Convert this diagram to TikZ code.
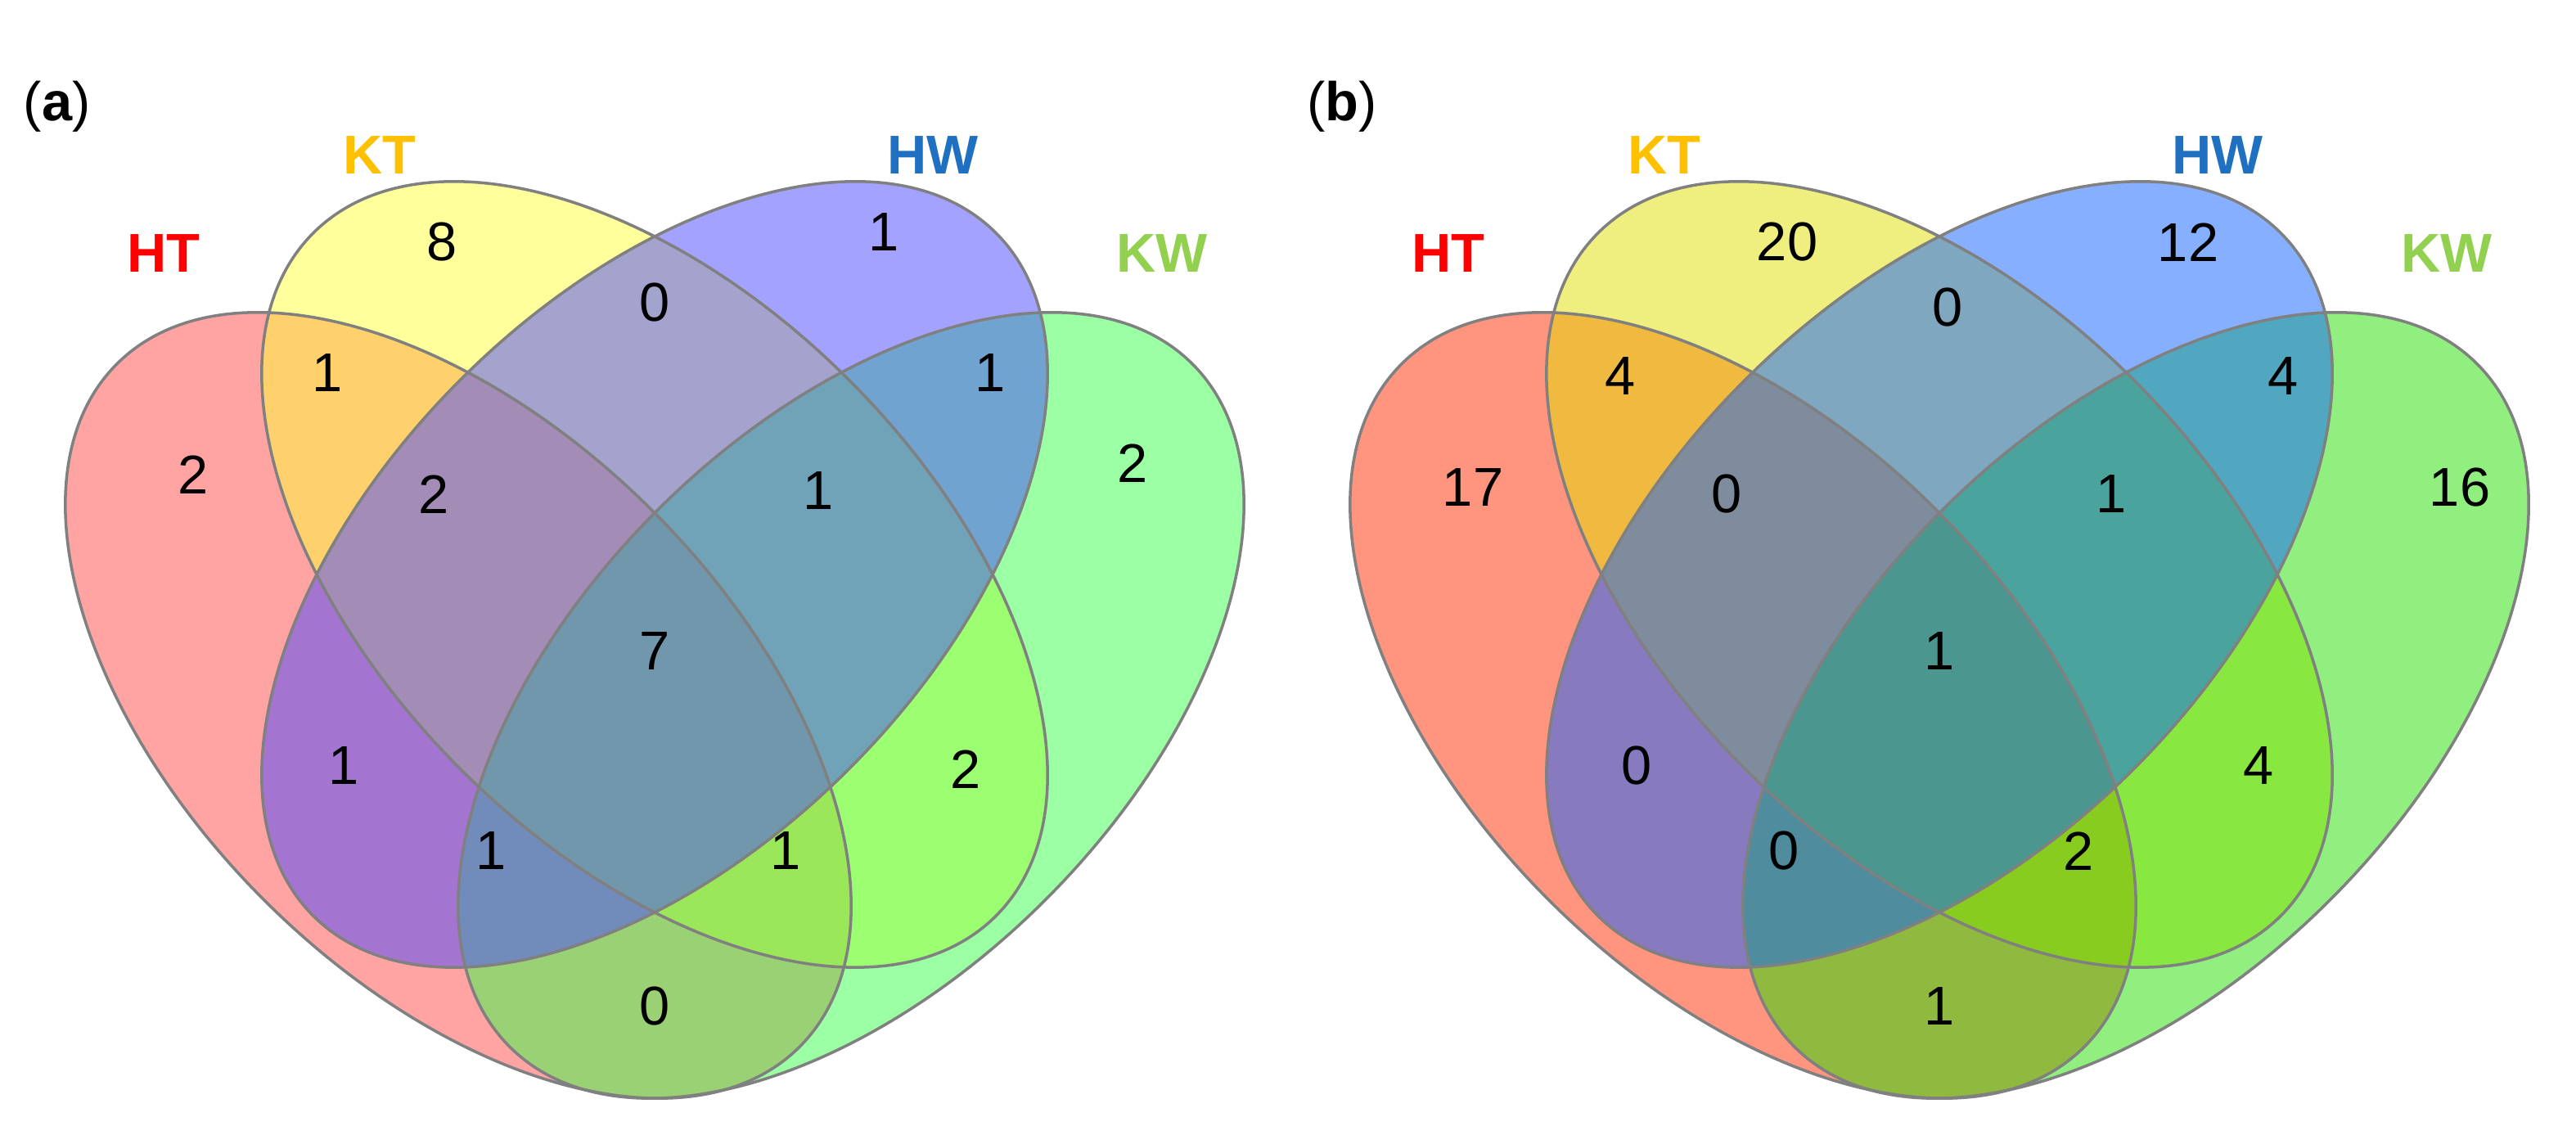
\documentclass[tikz,border=0pt]{standalone}
\usepackage{fontspec}
\setmainfont{Liberation Sans}
\usetikzlibrary{positioning}

\definecolor{htA}{HTML}{FF4848}
\definecolor{ktA}{HTML}{FFFF38}
\definecolor{hwA}{HTML}{4848FF}
\definecolor{kwA}{HTML}{38FF48}
\definecolor{htB}{HTML}{FF2A00}
\definecolor{ktB}{HTML}{E0E000}
\definecolor{hwB}{HTML}{1060FF}
\definecolor{kwB}{HTML}{22E000}
\definecolor{htT}{HTML}{FF0000}
\definecolor{ktT}{HTML}{FFC000}
\definecolor{hwT}{HTML}{1F70C0}
\definecolor{kwT}{HTML}{92D050}

\begin{document}
\begin{tikzpicture}[
    set/.style={fill opacity=0.5},
    rim/.style={draw=black!50, line width=0.5pt},
    num/.style={font=\fontsize{9.5}{11}\selectfont},
    lab/.style={font=\fontsize{9.5}{11}\selectfont\bfseries},
    ]
    \useasboundingbox (0,0) rectangle (15.74,6.88);
    %Panel a
    \begin{scope}
    \fill[set, fill=htA] (2.8,2.57) ellipse[x radius=2.95, y radius=1.68, rotate=-45];
    \fill[set, fill=ktA] (4.0,3.37) ellipse[x radius=2.95, y radius=1.68, rotate=-45];
    \fill[set, fill=kwA] (5.2,2.57) ellipse[x radius=2.95, y radius=1.68, rotate=45];
    \fill[set, fill=hwA] (4.0,3.37) ellipse[x radius=2.95, y radius=1.68, rotate=45];
    \draw[rim] (2.8,2.57) ellipse[x radius=2.95, y radius=1.68, rotate=-45];
    \draw[rim] (4.0,3.37) ellipse[x radius=2.95, y radius=1.68, rotate=-45];
    \draw[rim] (4.0,3.37) ellipse[x radius=2.95, y radius=1.68, rotate=45];
    \draw[rim] (5.2,2.57) ellipse[x radius=2.95, y radius=1.68, rotate=45];
    \node[lab] (pa) at (0.35,6.23) {\mdseries(\textbf{a})};
    \node[lab, text=ktT] (kta) at (2.32,5.93) {KT};
    \node[lab, text=hwT] (hwa) at (5.70,5.93) {HW};
    \node[lab, text=htT] (hta) at (1.00,5.33) {HT};
    \node[lab, text=kwT] (kwa) at (7.10,5.33) {KW};
    \node[num] (a1)  at (2.70,5.40) {8};
    \node[num] (a2)  at (5.40,5.46) {1};
    \node[num] (a3)  at (4.00,5.03) {0};
    \node[num] (a4)  at (2.00,4.60) {1};
    \node[num] (a5)  at (6.05,4.60) {1};
    \node[num] (a6)  at (1.18,3.98) {2};
    \node[num] (a7)  at (6.92,4.05) {2};
    \node[num] (a8)  at (2.65,3.86) {2};
    \node[num] (a9)  at (5.00,3.88) {1};
    \node[num] (a10) at (4.00,2.90) {7};
    \node[num] (a11) at (2.10,2.20) {1};
    \node[num] (a12) at (5.90,2.18) {2};
    \node[num] (a13) at (3.00,1.68) {1};
    \node[num] (a14) at (4.80,1.68) {1};
    \node[num] (a15) at (4.00,0.73) {0};
    \end{scope}
    %Panel b
    \begin{scope}[xshift=7.85cm]
    \fill[set, fill=htB] (2.8,2.57) ellipse[x radius=2.95, y radius=1.68, rotate=-45];
    \fill[set, fill=ktB] (4.0,3.37) ellipse[x radius=2.95, y radius=1.68, rotate=-45];
    \fill[set, fill=kwB] (5.2,2.57) ellipse[x radius=2.95, y radius=1.68, rotate=45];
    \fill[set, fill=hwB] (4.0,3.37) ellipse[x radius=2.95, y radius=1.68, rotate=45];
    \draw[rim] (2.8,2.57) ellipse[x radius=2.95, y radius=1.68, rotate=-45];
    \draw[rim] (4.0,3.37) ellipse[x radius=2.95, y radius=1.68, rotate=-45];
    \draw[rim] (4.0,3.37) ellipse[x radius=2.95, y radius=1.68, rotate=45];
    \draw[rim] (5.2,2.57) ellipse[x radius=2.95, y radius=1.68, rotate=45];
    \node[lab] (pb) at (0.35,6.23) {\mdseries(\textbf{b})};
    \node[lab, text=ktT] (ktb) at (2.32,5.93) {KT};
    \node[lab, text=hwT] (hwb) at (5.70,5.93) {HW};
    \node[lab, text=htT] (htb) at (1.00,5.33) {HT};
    \node[lab, text=kwT] (kwb) at (7.10,5.33) {KW};
    \node[num] (b1)  at (3.07,5.40) {20};
    \node[num] (b2)  at (5.52,5.40) {12};
    \node[num] (b3)  at (4.05,5.00) {0};
    \node[num] (b4)  at (2.05,4.58) {4};
    \node[num] (b5)  at (6.10,4.58) {4};
    \node[num] (b6)  at (1.15,3.90) {17};
    \node[num] (b7)  at (7.18,3.90) {16};
    \node[num] (b8)  at (2.70,3.86) {0};
    \node[num] (b9)  at (5.05,3.86) {1};
    \node[num] (b10) at (4.00,2.90) {1};
    \node[num] (b11) at (2.15,2.20) {0};
    \node[num] (b12) at (5.95,2.20) {4};
    \node[num] (b13) at (3.05,1.68) {0};
    \node[num] (b14) at (4.85,1.68) {2};
    \node[num] (b15) at (4.00,0.73) {1};
    \end{scope}
\end{tikzpicture}
\end{document}
